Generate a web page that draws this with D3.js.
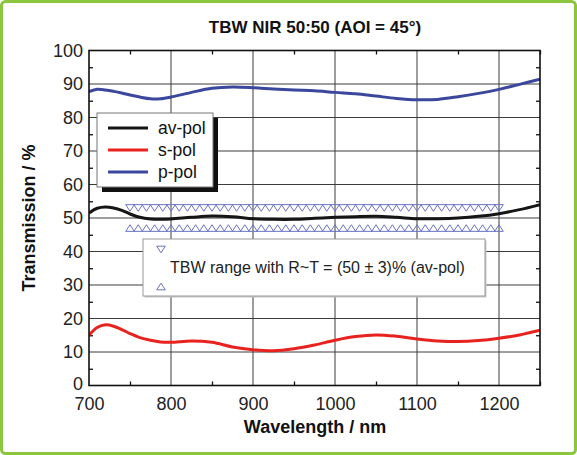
<!DOCTYPE html>
<html>
<head>
<meta charset="utf-8">
<script src="https://cdn.jsdelivr.net/npm/d3@7"></script>
<style>
  body { margin: 0; background: #fff; }
  svg { display: block; font-family: "Liberation Sans", Arial, sans-serif; }
</style>
</head>
<body>
<div id="container"></div>
<script>
let width = 577
let height = 455
let margin = ({ top: 50.5, right: 37, bottom: 69.5, left: 89 })

// data
let wavelength = [700, 710, 720, 730, 740, 750, 762, 775, 787, 800, 825, 850, 875, 900, 925, 950, 975, 1000, 1025, 1050, 1075, 1100, 1125, 1150, 1175, 1200, 1225, 1250]
let avPol = [51.5, 52.9, 53.3, 53.0, 52.3, 51.2, 50.2, 49.7, 49.6, 49.7, 50.2, 50.6, 50.4, 49.8, 49.6, 49.6, 49.9, 50.2, 50.4, 50.5, 50.2, 49.8, 49.8, 50.0, 50.5, 51.3, 52.5, 54.0]
let sPol = [15.0, 17.3, 18.1, 17.7, 16.7, 15.5, 14.3, 13.5, 13.0, 12.9, 13.3, 12.9, 11.5, 10.7, 10.4, 11.0, 12.1, 13.5, 14.6, 15.1, 14.7, 13.9, 13.3, 13.1, 13.4, 14.1, 15.1, 16.5]
let pPol = [87.7, 88.4, 88.2, 87.8, 87.3, 86.7, 86.1, 85.6, 85.6, 86.1, 87.5, 88.7, 89.1, 88.9, 88.5, 88.2, 88.0, 87.5, 87.1, 86.4, 85.7, 85.3, 85.4, 86.2, 87.2, 88.4, 89.9, 91.4]

let tbwWavelength = [750, 760, 770, 780, 790, 800, 810, 820, 830, 840, 850, 860, 870, 880, 890, 900, 910, 920, 930, 940, 950, 960, 970, 980, 990, 1000, 1010, 1020, 1030, 1040, 1050, 1060, 1070, 1080, 1090, 1100, 1110, 1120, 1130, 1140, 1150, 1160, 1170, 1180, 1190, 1200]
let tbwUpper = 53
let tbwLower = 47

let xTicks = [700, 800, 900, 1000, 1100, 1200]
let xMinor = [750, 850, 950, 1050, 1150, 1250]
let yTicks = [0, 10, 20, 30, 40, 50, 60, 70, 80, 90, 100]
let yMinor = [5, 15, 25, 35, 45, 55, 65, 75, 85, 95]

let series = [
    { name: "av-pol", values: avPol, color: "#151515" },
    { name: "s-pol", values: sPol, color: "#e8231f" },
    { name: "p-pol", values: pPol, color: "#3b479c" }
]
let markerColor = "#6a73c4"

let x = d3.scaleLinear()
    .domain([700, 1250])
    .range([margin.left, width - margin.right])

let y = d3.scaleLinear()
    .domain([0, 100])
    .range([height - margin.bottom, margin.top])

// open triangle, a bit flatter than equilateral
let triangle = (down) => {
    let w = 4.3, h = 3.3
    let p = d3.path()
    if (down) {
        p.moveTo(-w, -h); p.lineTo(w, -h); p.lineTo(0, h)
    } else {
        p.moveTo(-w, h); p.lineTo(w, h); p.lineTo(0, -h)
    }
    p.closePath()
    return p.toString()
}

let svg = d3.select("#container")
    .append("svg")
    .attr("width", width)
    .attr("height", height)
    .attr("viewBox", [0, 0, width, height])

// green frame
svg.append("rect")
    .attr("x", 1.5).attr("y", 1.5)
    .attr("width", width - 3).attr("height", height - 3)
    .attr("rx", 4)
    .attr("fill", "#fff")
    .attr("stroke", "#8cc63f")
    .attr("stroke-width", 3)

svg.append("clipPath").attr("id", "plot")
    .append("rect")
    .attr("x", x(700)).attr("y", y(100))
    .attr("width", x(1250) - x(700)).attr("height", y(0) - y(100))

// grid
svg.append("g")
    .attr("stroke", "#3c3c3c")
    .attr("stroke-width", 1)
    .call(g => g.selectAll(".gx").data(xTicks.slice(1)).join("line")
        .attr("x1", d => x(d)).attr("x2", d => x(d))
        .attr("y1", y(0)).attr("y2", y(100)))
    .call(g => g.selectAll(".gy").data(yTicks.slice(1, -1)).join("line")
        .attr("x1", x(700)).attr("x2", x(1250))
        .attr("y1", d => y(d)).attr("y2", d => y(d)))

// axes with inward ticks
let xAxis = (g, top) => g
    .attr("transform", `translate(0,${top ? y(100) : y(0)})`)
    .call((top ? d3.axisTop(x) : d3.axisBottom(x)).tickValues(xMinor).tickSize(-4).tickFormat(""))
    .call(g => g.select(".domain").remove())

let yAxis = (g, right) => g
    .attr("transform", `translate(${right ? x(1250) : x(700)},0)`)
    .call((right ? d3.axisRight(y) : d3.axisLeft(y)).tickValues(yMinor).tickSize(-4).tickFormat(""))
    .call(g => g.select(".domain").remove())

svg.append("g").call(xAxis, false)
svg.append("g").call(xAxis, true)
svg.append("g").call(yAxis, false)
svg.append("g").call(yAxis, true)
svg.selectAll(".tick line").attr("stroke", "#111").attr("stroke-width", 1.3)

// tick labels
svg.append("g")
    .attr("transform", `translate(0,${y(0)})`)
    .call(d3.axisBottom(x).tickValues(xTicks).tickSize(0).tickPadding(11.5).tickFormat(d3.format("d")))
    .call(g => g.select(".domain").remove())
    .call(g => g.selectAll("text")
        .attr("font-size", 18)
        .attr("font-family", "Liberation Sans, Arial, sans-serif")
        .attr("fill", "#222"))

svg.append("g")
    .attr("transform", `translate(${x(700)},0)`)
    .call(d3.axisLeft(y).tickValues(yTicks).tickSize(0).tickPadding(6))
    .call(g => g.select(".domain").remove())
    .call(g => g.selectAll("text")
        .attr("font-size", 18)
        .attr("font-family", "Liberation Sans, Arial, sans-serif")
        .attr("fill", "#222")
        .attr("dy", d => d === 0 ? "0.2em" : "0.32em"))

// curves
let line = d3.line()
    .x((d, i) => x(wavelength[i]))
    .y(d => y(d))
    .curve(d3.curveCatmullRom)

let plot = svg.append("g").attr("clip-path", "url(#plot)")

// TBW range markers
plot.append("g")
    .selectAll("path")
    .data(tbwWavelength)
    .join("path")
    .attr("d", triangle(true))
    .attr("transform", d => `translate(${x(d)},${y(tbwUpper)})`)
    .attr("fill", "none")
    .attr("stroke", markerColor)
    .attr("stroke-width", 1)

plot.append("g")
    .selectAll("path")
    .data(tbwWavelength)
    .join("path")
    .attr("d", triangle(false))
    .attr("transform", d => `translate(${x(d)},${y(tbwLower)})`)
    .attr("fill", "none")
    .attr("stroke", markerColor)
    .attr("stroke-width", 1)

plot.selectAll(".series")
    .data(series)
    .join("path")
    .attr("fill", "none")
    .attr("stroke", d => d.color)
    .attr("stroke-width", 3)
    .attr("stroke-linejoin", "round")
    .attr("d", d => line(d.values))

// plot frame
svg.append("rect")
    .attr("x", x(700)).attr("y", y(100))
    .attr("width", x(1250) - x(700)).attr("height", y(0) - y(100))
    .attr("fill", "none")
    .attr("stroke", "#111")
    .attr("stroke-width", 1.6)

// legend
let legend = svg.append("g").attr("transform", "translate(97,113)")
legend.append("rect")
    .attr("x", 5).attr("y", 5).attr("width", 116).attr("height", 74)
    .attr("fill", "#111")
legend.append("rect")
    .attr("width", 116).attr("height", 74)
    .attr("fill", "#fff")
    .attr("stroke", "#777")
    .attr("stroke-width", 1)

let item = legend.selectAll(".item")
    .data(series)
    .join("g")
    .attr("transform", (d, i) => `translate(0,${15 + i * 22})`)
item.append("line")
    .attr("x1", 11).attr("x2", 51)
    .attr("stroke", d => d.color)
    .attr("stroke-width", 3)
item.append("text")
    .attr("x", 61).attr("y", 6)
    .attr("font-size", 17.5)
    .attr("fill", "#111")
    .text(d => d.name)

// TBW legend
let legend2 = svg.append("g").attr("transform", "translate(143,239)")
legend2.append("rect")
    .attr("x", 1.5).attr("y", 1.5).attr("width", 342).attr("height", 57)
    .attr("fill", "#c8c8c8")
legend2.append("rect")
    .attr("width", 342).attr("height", 57)
    .attr("fill", "#fff")
    .attr("stroke", "#999")
    .attr("stroke-width", 1)
legend2.append("path")
    .attr("d", triangle(true))
    .attr("transform", "translate(18,10.5)")
    .attr("fill", "none")
    .attr("stroke", markerColor)
legend2.append("path")
    .attr("d", triangle(false))
    .attr("transform", "translate(18,47.5)")
    .attr("fill", "none")
    .attr("stroke", markerColor)
legend2.append("text")
    .attr("x", 27).attr("y", 34)
    .attr("font-size", 16)
    .attr("fill", "#222")
    .text("TBW range with R~T = (50 ± 3)% (av-pol)")

// titles
svg.append("text")
    .attr("x", 315).attr("y", 33)
    .attr("text-anchor", "middle")
    .attr("font-size", 17)
    .attr("font-weight", "bold")
    .attr("fill", "#111")
    .text("TBW NIR 50:50 (AOI = 45°)")

svg.append("text")
    .attr("x", 315).attr("y", 433)
    .attr("text-anchor", "middle")
    .attr("font-size", 18)
    .attr("font-weight", "bold")
    .attr("fill", "#111")
    .text("Wavelength / nm")

svg.append("text")
    .attr("transform", `translate(35,${y(50)}) rotate(-90)`)
    .attr("text-anchor", "middle")
    .attr("font-size", 18)
    .attr("font-weight", "bold")
    .attr("fill", "#111")
    .text("Transmission / %")
</script>
</body>
</html>
